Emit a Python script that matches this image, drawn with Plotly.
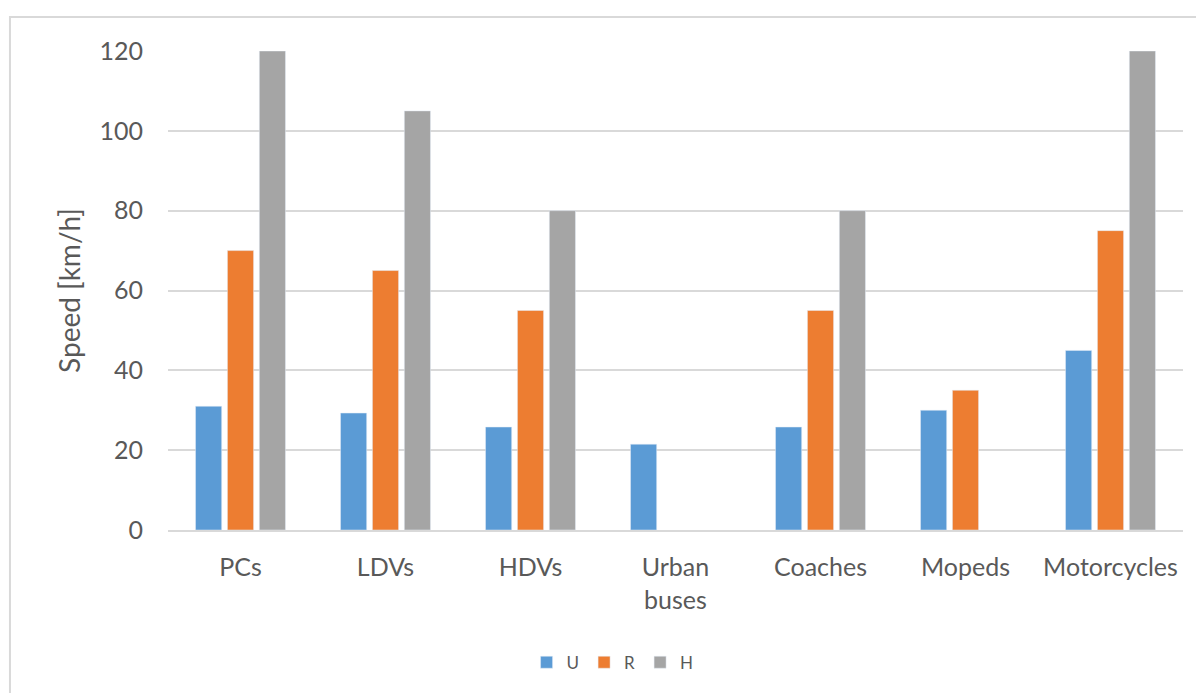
import plotly.graph_objects as go

categories = ["PCs", "LDVs", "HDVs", "Urban<br>buses", "Coaches", "Mopeds", "Motorcycles"]
u_values = [31, 29.3, 25.8, 21.5, 25.8, 30, 45]
r_values = [70, 65, 55, None, 55, 35, 75]
h_values = [120, 105, 80, None, 80, None, 120]
y_ticks = [0, 20, 40, 60, 80, 100, 120]

FONT = "Lato, Carlito, Calibri, sans-serif"
TXT = "#595959"
GRID = "#D9D9D9"

fig = go.Figure()
fig.add_trace(go.Bar(name="U", x=categories, y=u_values, marker_color="#5B9BD5"))
fig.add_trace(go.Bar(name="R", x=categories, y=r_values, marker_color="#ED7D31"))
fig.add_trace(go.Bar(name="H", x=categories, y=h_values, marker_color="#A5A5A5"))

# page body has an 8px margin, so the figure is 8px smaller and margins shifted
fig.update_layout(
    width=1196, height=685,
    margin=dict(l=160, r=21, t=43, b=163),
    paper_bgcolor="white", plot_bgcolor="white",
    barmode="group", bargap=0.34, bargroupgap=0.18,
    font=dict(family=FONT, color=TXT, size=25),
    showlegend=True,
    legend=dict(orientation="h", x=0.438, xanchor="center", xref="paper",
                y=-0.277, yanchor="middle",
                font=dict(size=17, color=TXT, family=FONT),
                itemwidth=30, traceorder="normal"),
    shapes=[dict(type="rect", xref="paper", yref="paper",
                 x0=-0.1557, x1=1.2, y0=-0.5, y1=1.071,
                 line=dict(color=GRID, width=2), layer="below")],
)
fig.update_xaxes(
    showgrid=False, showline=True, linecolor=GRID, linewidth=2,
    ticks="", tickfont=dict(size=25, color=TXT), ticklabelstandoff=14,
)
fig.update_yaxes(
    range=[0, 120], tickvals=y_ticks, showgrid=True, gridcolor=GRID, gridwidth=2,
    zeroline=False, showline=False, ticks="",
    tickfont=dict(size=25, color=TXT), ticklabelstandoff=24,
    title=dict(text="Speed [km/h]", font=dict(size=28, color=TXT), standoff=10),
)

fig.write_html("out.html")
